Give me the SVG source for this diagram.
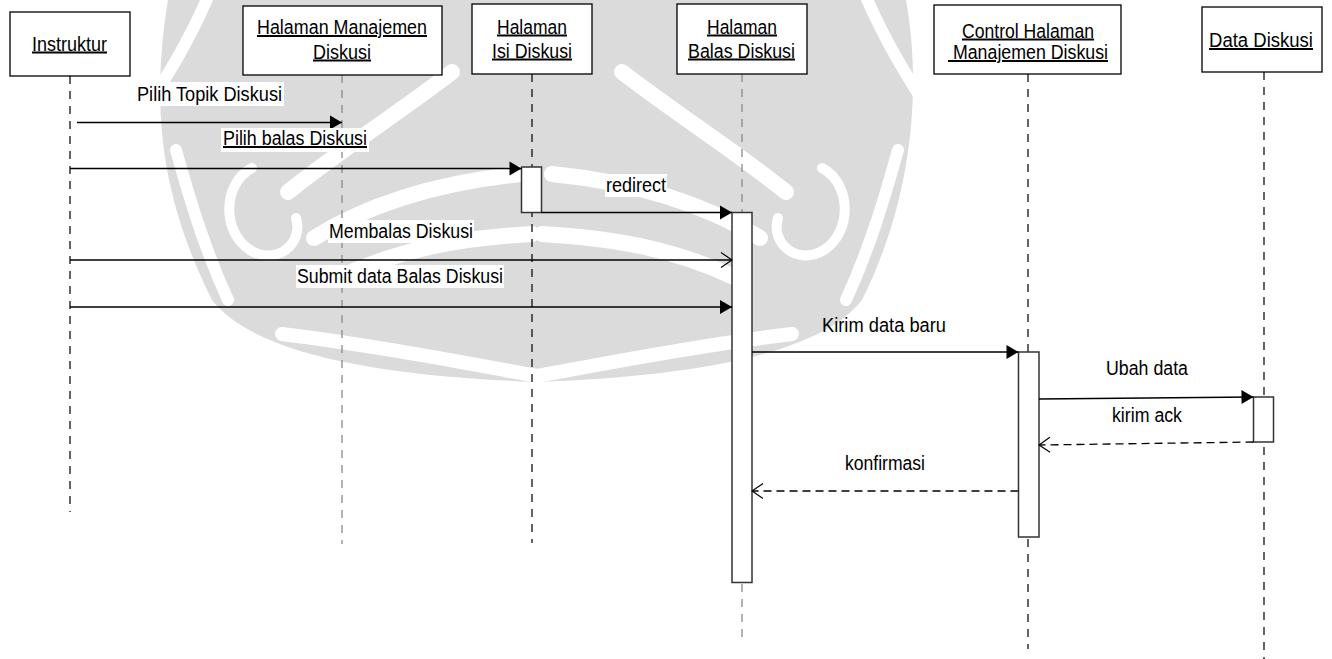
<svg xmlns="http://www.w3.org/2000/svg" width="1332" height="659" viewBox="0 0 1332 659">
  <style>
    text { font-family: "Liberation Sans", Arial, sans-serif; font-size: 20px; fill: #000; }
    .u { text-decoration: underline; }
    .box { fill: #fff; stroke: #000; stroke-width: 1.3; }
    .act { fill: #fff; stroke: #333; stroke-width: 1.5; }
    .life { stroke: #111; stroke-width: 1.3; stroke-dasharray: 8 7; fill: none; }
    .life.g { stroke: #8a8a8a; }
    .msg { stroke: #000; stroke-width: 1.3; fill: none; }
    .ret { stroke: #000; stroke-width: 1.3; fill: none; stroke-dasharray: 8 5; }
    .bg { fill: #fff; }
    .orn { fill: #dbdbdb; }
    .cut { fill: none; stroke: #fff; stroke-linecap: round; }
  </style>
  <defs>
    <marker id="solid" markerUnits="userSpaceOnUse" markerWidth="14" markerHeight="16" refX="13" refY="8" orient="auto">
      <path d="M1,1 L13,8 L1,15 Z" fill="#000"/>
    </marker>
    <marker id="open" markerUnits="userSpaceOnUse" markerWidth="13" markerHeight="18" refX="12" refY="9" orient="auto">
      <path d="M1,1.5 L12,9 L1,16.5" fill="none" stroke="#000" stroke-width="1.2"/>
    </marker>
    <!-- white swirls of one half of the background ornament; the other half mirrors it -->
    <g id="orn-cuts">
      <path class="cut" stroke-width="12" d="M210,-8 C190,40 165,80 140,118"/>
      <path class="cut" stroke-width="10" d="M252,168 C222,184 222,232 250,250 C276,266 304,244 296,218"/>
      <path class="cut" stroke-width="16" d="M288,192 C340,150 392,118 452,72"/>
      <path class="cut" stroke-width="16" d="M314,238 C372,202 442,182 522,174"/>
      <path class="cut" stroke-width="16" d="M338,278 C402,248 462,238 532,234"/>
      <path class="cut" stroke-width="14" d="M282,334 C378,346 460,362 537,376"/>
      <path class="cut" stroke-width="12" d="M176,150 C190,200 205,250 228,300"/>
    </g>
  </defs>

  <rect width="1332" height="659" fill="#fff"/>

  <!-- background ornament -->
  <g id="ornament">
    <path class="orn" d="M168,0 L906,0 C922,90 912,200 862,300 C822,352 702,376 537,382 C372,376 252,352 212,300 C162,200 150,110 168,0 Z"/>
    <use href="#orn-cuts"/>
    <use href="#orn-cuts" transform="translate(1074,0) scale(-1,1)"/>
  </g>

  <!-- lifelines -->
  <g id="instruktur">
    <line class="life" x1="70" y1="76" x2="70" y2="512"/>
    <rect class="box" x="10" y="12" width="120" height="64"/>
    <text class="u" x="32" y="50.5" textLength="75" lengthAdjust="spacingAndGlyphs">Instruktur</text>
  </g>

  <g id="halaman-manajemen-diskusi">
    <line class="life g" x1="342" y1="75" x2="342" y2="544"/>
    <rect class="box" x="243" y="6" width="199" height="69"/>
    <text class="u" x="257" y="34" textLength="170" lengthAdjust="spacingAndGlyphs">Halaman Manajemen</text>
    <text class="u" x="313" y="58.5" textLength="58" lengthAdjust="spacingAndGlyphs">Diskusi</text>
  </g>

  <g id="halaman-isi-diskusi">
    <line class="life" x1="532" y1="74" x2="532" y2="543"/>
    <rect class="box" x="472" y="4" width="120" height="70"/>
    <text class="u" x="497" y="33.5" textLength="70" lengthAdjust="spacingAndGlyphs">Halaman</text>
    <text class="u" x="492" y="57.5" textLength="80" lengthAdjust="spacingAndGlyphs">Isi Diskusi</text>
    <rect class="act" x="521.5" y="167" width="20" height="45.5"/>
  </g>

  <g id="halaman-balas-diskusi">
    <line class="life g" x1="742" y1="74" x2="742" y2="644"/>
    <rect class="box" x="677" y="4" width="130" height="70"/>
    <text class="u" x="707" y="33.5" textLength="70" lengthAdjust="spacingAndGlyphs">Halaman</text>
    <text class="u" x="688" y="57.5" textLength="107" lengthAdjust="spacingAndGlyphs">Balas Diskusi</text>
    <rect class="act" x="732" y="212.5" width="20" height="370"/>
  </g>

  <g id="control-halaman-manajemen-diskusi">
    <line class="life" x1="1028" y1="74" x2="1028" y2="649"/>
    <rect class="box" x="934" y="5" width="187" height="69"/>
    <text class="u" x="962" y="37.5" textLength="132" lengthAdjust="spacingAndGlyphs">Control Halaman</text>
    <text class="u" x="948" y="59" textLength="160" lengthAdjust="spacingAndGlyphs" xml:space="preserve"> Manajemen Diskusi</text>
    <rect class="act" x="1018.5" y="352" width="20.5" height="185"/>
  </g>

  <g id="data-diskusi">
    <line class="life" x1="1264" y1="72" x2="1264" y2="659"/>
    <rect class="box" x="1202" y="7" width="120" height="65"/>
    <text class="u" x="1209" y="47" textLength="104" lengthAdjust="spacingAndGlyphs">Data Diskusi</text>
    <rect class="act" x="1253.5" y="397" width="20" height="45"/>
  </g>

  <!-- messages -->
  <g id="connectors">
    <line class="msg" x1="77" y1="122.5" x2="342" y2="122.5" marker-end="url(#solid)"/>
    <rect class="bg" x="135" y="82" width="149" height="24"/>
    <text x="137" y="101" textLength="145" lengthAdjust="spacingAndGlyphs">Pilih Topik Diskusi</text>

    <line class="msg" x1="70" y1="168.5" x2="521.5" y2="168.5" marker-end="url(#solid)"/>
    <rect class="bg" x="221" y="128" width="148" height="24"/>
    <text class="u" x="223" y="145" textLength="144" lengthAdjust="spacingAndGlyphs">Pilih balas Diskusi</text>

    <line class="msg" x1="541.5" y1="212.5" x2="732" y2="212.5" marker-end="url(#solid)"/>
    <rect class="bg" x="605" y="174" width="62" height="23"/>
    <text x="606" y="192" textLength="60" lengthAdjust="spacingAndGlyphs">redirect</text>

    <line class="msg" x1="70" y1="260" x2="732" y2="260" marker-end="url(#open)"/>
    <rect class="bg" x="328" y="220" width="146" height="23"/>
    <text x="329" y="238" textLength="144" lengthAdjust="spacingAndGlyphs">Membalas Diskusi</text>

    <line class="msg" x1="70" y1="307" x2="732" y2="307" marker-end="url(#solid)"/>
    <rect class="bg" x="296" y="265" width="208" height="23"/>
    <text x="297" y="283" textLength="206" lengthAdjust="spacingAndGlyphs">Submit data Balas Diskusi</text>

    <line class="msg" x1="752" y1="352" x2="1018.5" y2="352" marker-end="url(#solid)"/>
    <text x="822" y="332" textLength="124" lengthAdjust="spacingAndGlyphs">Kirim data baru</text>

    <line class="msg" x1="1039" y1="399" x2="1253.5" y2="397" marker-end="url(#solid)"/>
    <text x="1106" y="375" textLength="82" lengthAdjust="spacingAndGlyphs">Ubah data</text>

    <line class="ret" x1="1253.5" y1="442" x2="1039" y2="445" marker-end="url(#open)"/>
    <text x="1112" y="422" textLength="70" lengthAdjust="spacingAndGlyphs">kirim ack</text>

    <line class="ret" x1="1018.5" y1="491" x2="752" y2="491" marker-end="url(#open)"/>
    <text x="845" y="470" textLength="80" lengthAdjust="spacingAndGlyphs">konfirmasi</text>
  </g>
</svg>
